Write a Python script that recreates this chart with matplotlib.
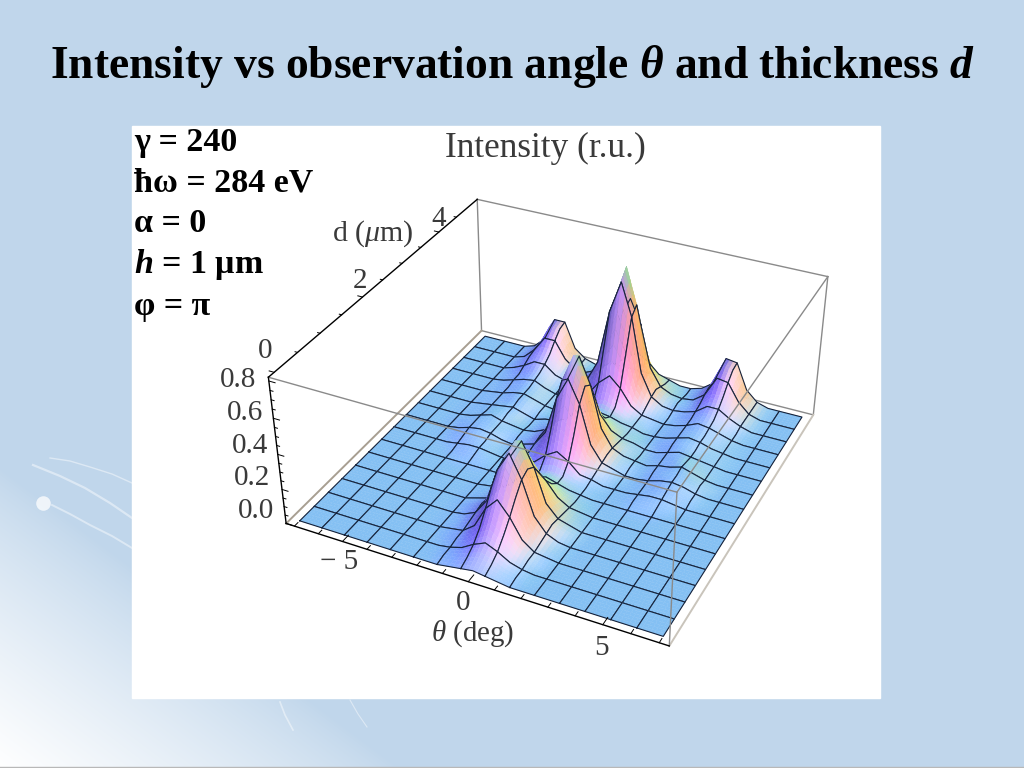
import numpy as np
import matplotlib
matplotlib.use("Agg")
import matplotlib.pyplot as plt
from mpl_toolkits.mplot3d.art3d import Poly3DCollection

plt.rcParams['font.family'] = ['Liberation Serif', 'DejaVu Serif']
plt.rcParams['mathtext.fontset'] = 'custom'
plt.rcParams['mathtext.rm'] = 'Liberation Serif'
plt.rcParams['mathtext.it'] = 'Liberation Serif:italic'
plt.rcParams['mathtext.bf'] = 'Liberation Serif:bold'
plt.rcParams['mathtext.bfit'] = 'Liberation Serif:italic:bold'

# intensity, in hundredths; rows go with d, columns with theta
intensity = np.array([
    [0,0,0,0,0,0,0,0,0,0,0,0,0,1,2,3,2,1,0,0,0,0,0,0,0,0,0,0,0,0,0],
    [0,0,0,0,0,0,0,0,0,0,0,0,1,2,4,6,4,2,1,0,0,0,0,0,0,0,0,0,0,0,0],
    [0,0,0,0,0,0,0,0,0,0,0,0,1,3,7,10,7,3,1,0,0,0,0,0,0,0,0,0,0,0,0],
    [0,0,0,0,0,0,0,0,0,0,0,0,2,5,12,17,12,5,2,0,0,0,0,0,0,0,0,0,0,0,0],
    [0,0,0,0,0,0,0,0,0,0,0,1,2,7,19,26,18,7,2,1,0,0,0,0,0,0,0,0,0,0,0],
    [0,0,0,0,0,0,0,0,0,0,0,1,3,10,27,36,25,10,3,1,0,0,0,0,0,0,0,0,0,0,0],
    [0,0,0,0,0,0,0,0,0,0,0,1,4,13,33,44,31,12,4,1,0,0,0,0,0,0,0,0,0,0,0],
    [0,0,0,0,0,0,0,0,0,0,0,2,5,14,35,47,33,13,5,2,0,0,0,0,0,0,0,0,0,0,0],
    [0,0,0,0,0,0,0,0,0,0,0,2,4,12,32,43,30,11,4,2,0,0,0,0,0,0,0,0,0,0,0],
    [0,0,0,0,0,0,0,0,0,0,0,1,3,9,24,32,22,9,3,1,0,0,0,0,0,0,0,0,0,0,0],
    [0,0,0,0,0,0,0,0,0,0,0,1,2,6,15,20,14,6,2,1,0,0,0,0,0,0,0,0,0,0,0],
    [0,0,0,0,0,0,0,0,0,0,0,0,1,3,8,11,8,3,1,0,0,0,0,0,0,0,0,0,0,0,0],
    [0,0,0,0,0,0,0,0,0,0,0,0,1,2,4,6,4,2,1,0,0,0,0,0,0,0,0,0,0,0,0],
    [0,0,0,0,0,0,0,1,1,1,0,0,1,2,4,5,4,2,1,0,0,0,1,1,1,0,0,0,0,0,0],
    [0,0,0,0,0,0,1,2,2,1,0,0,2,3,9,13,9,3,2,0,0,0,1,2,2,1,0,0,0,0,0],
    [0,0,0,0,0,1,2,3,2,1,0,1,3,8,21,29,21,8,3,1,0,0,1,2,3,2,1,0,0,0,0],
    [0,0,0,0,0,1,3,4,3,1,0,2,4,13,35,48,35,13,4,2,0,0,1,3,4,3,1,0,0,0,0],
    [0,0,0,0,0,2,3,4,3,2,1,2,5,16,42,58,42,16,5,2,1,0,2,3,4,3,2,0,0,0,0],
    [0,0,0,0,0,1,3,5,3,2,1,2,5,15,39,54,39,15,5,2,1,0,2,3,5,3,1,0,0,0,0],
    [0,0,0,0,0,1,2,4,4,2,0,2,4,10,27,37,27,10,4,2,0,0,2,4,4,2,1,0,0,0,0],
    [0,0,0,0,0,1,2,3,4,2,0,2,3,6,14,20,14,6,3,2,0,0,2,4,3,2,1,0,0,0,0],
    [0,0,0,0,0,1,2,3,5,3,1,1,2,4,8,11,8,4,2,1,0,1,3,5,3,2,1,0,0,0,0],
    [0,0,0,0,0,1,2,4,5,3,1,0,2,3,5,6,5,3,2,0,0,1,3,5,4,2,1,0,0,0,0],
    [0,0,0,0,0,1,2,4,5,3,1,0,2,3,7,10,7,3,2,0,0,1,3,5,4,2,1,0,0,0,0],
    [0,0,0,0,0,1,3,5,6,3,1,1,2,6,15,21,15,6,2,1,0,1,3,6,5,3,1,0,0,0,0],
    [0,0,0,0,0,1,3,6,7,3,1,2,4,12,33,46,33,12,4,2,0,1,3,7,6,3,1,0,0,0,0],
    [0,0,0,0,0,2,5,9,9,4,2,2,6,19,51,70,51,19,6,2,1,2,4,9,9,5,2,0,0,0,0],
    [0,0,0,0,0,2,7,12,12,5,3,3,7,21,55,76,55,21,7,3,2,2,5,13,13,7,2,0,0,0,0],
    [0,0,0,0,0,2,8,17,17,7,2,2,5,15,40,54,40,15,5,2,1,2,7,19,18,8,2,0,0,0,0],
    [0,0,0,0,0,2,8,21,21,8,2,1,3,8,21,29,21,8,3,1,0,2,8,23,22,9,2,0,0,0,0],
    [0,0,0,0,0,2,8,22,22,7,2,0,2,4,10,14,10,4,2,0,0,2,7,24,23,8,2,0,0,0,0],
]) / 100.0

theta_range = [-7.0, 7.0]
d_range = [0.0, 5.0]
theta_lim = [-7.35, 7.35]
d_lim = [-0.12, 5.12]
z_lim = [0.0, 0.82]

theta_major = [-5, 0, 5]
d_major = [0, 2, 4]
z_major = [0.0, 0.2, 0.4, 0.6, 0.8]
theta_minor = [-7, -6, -4, -3, -2, -1, 1, 2, 3, 4, 6, 7]
d_minor = [0.5, 1, 1.5, 2.5, 3, 3.5, 4.5]
z_minor = [0.05, 0.1, 0.15, 0.25, 0.3, 0.35, 0.45, 0.5, 0.55, 0.65, 0.7, 0.75]

title_text = r"Intensity vs observation angle $\mathbfit{\theta}$ and thickness $\mathbfit{d}$"
param_labels = ["γ = 240", "ħω = 284 eV", "α = 0", r"$\mathbfit{h}$ = 1 μm", "φ = π"]
param_y = [142, 183, 224, 265, 307]

ELEV = 33.5
AZIM = -64.3
FOCAL = 0.42
ZOOM = 0.83
CX, CY, SIDE = 553, 407, 700
W, H = 1024, 768

fig = plt.figure(figsize=(W / 100, H / 100), dpi=100)

# --- slide background, axes in pixels ---
bg = fig.add_axes([0, 0, 1, 1])
bg.set_xlim(0, W)
bg.set_ylim(H, 0)
bg.axis('off')
yy, xx = np.mgrid[0:H, 0:W]
glow = np.clip(1 - (xx * 0.75 + (H - yy)) / 300.0, 0, 1)[..., None] ** 0.8
base = np.array([192, 214, 235]) / 255.0
bg.imshow(base * (1 - glow) + glow, extent=(0, W, H, 0), aspect='auto', zorder=0)

for xs, ys, lw in [([50, 70, 90, 112, 132], [458, 461, 467, 474, 483], 1.0),
                   ([33, 60, 85, 110, 132], [465, 476, 488, 503, 518], 1.6),
                   ([52, 70, 90, 112, 132], [505, 514, 525, 536, 548], 1.4),
                   ([280, 285, 293], [702, 715, 730], 1.2),
                   ([350, 358, 367], [700, 714, 727], 0.8)]:
    bg.plot(xs, ys, color='white', lw=lw, alpha=0.45, zorder=1)
bg.scatter([43], [503], s=110, color='white', alpha=0.75, lw=0, zorder=1)
bg.plot([0, W], [767, 767], color='#b8b8b8', lw=1, zorder=1)

bg.fill([132, 880, 880, 132], [126, 126, 698, 698], color='white', zorder=2)

bg.text(512, 66, title_text, fontsize=32.8, fontweight='bold', ha='center', va='center', zorder=5)
for lab, y in zip(param_labels, param_y):
    bg.text(134, y, lab, fontsize=24.5, fontweight='bold', ha='left', va='center', zorder=5)

gray = '#3a3a3a'
bg.text(545, 148, "Intensity (r.u.)", fontsize=25.4, color=gray, ha='center', va='center', zorder=5)
bg.text(373, 234, r"d ($\mu$m)", fontsize=21.5, color=gray, ha='center', va='center', zorder=5)
bg.text(473, 634, r"$\theta$ (deg)", fontsize=20.8, color=gray, ha='center', va='center', zorder=5)
for lab, x, y in [("0", 265, 351), ("2", 360, 281), ("4", 439, 219),
                  ("0.0", 256, 511), ("0.2", 252, 478), ("0.4", 250, 446),
                  ("0.6", 245, 413), ("0.8", 238, 380),
                  ("\u2212 5", 339, 562), ("0", 463, 603), ("5", 602, 648)]:
    bg.text(x, y, lab, fontsize=21, color=gray, ha='center', va='center', zorder=5)

# --- surface ---
ax = fig.add_axes([(CX - SIDE / 2) / W, (H - CY - SIDE / 2) / H, SIDE / W, SIDE / H],
                  projection='3d', computed_zorder=False)
ax.patch.set_alpha(0)
ax.set_axis_off()
ax.set_proj_type('persp', focal_length=FOCAL)
ax.view_init(elev=ELEV, azim=AZIM)
ax.set_box_aspect((1, 1, 0.42), zoom=ZOOM)
ax.set_xlim(*theta_lim)
ax.set_ylim(*d_lim)
ax.set_zlim(*z_lim)

n_d, n_t = intensity.shape
theta = np.linspace(theta_range[0], theta_range[1], n_t)
d = np.linspace(d_range[0], d_range[1], n_d)
T, D = np.meshgrid(theta, d)


def unit(v):
    v = np.array(v, dtype=float)
    return v / np.linalg.norm(v)


def vertex_colors(Z):
    # coloured lights fixed to the viewer, tuned to the reference tints
    gy, gx = np.gradient(Z * 0.4 / z_lim[1], 1.0 / (n_d - 1), 1.0 / (n_t - 1))
    n = np.dstack([-gx, -gy, np.ones_like(Z)])
    n /= np.linalg.norm(n, axis=2, keepdims=True)
    az, el = np.radians(AZIM), np.radians(ELEV)
    right = np.array([-np.sin(az), np.cos(az), 0])
    up = np.array([-np.sin(el) * np.cos(az), -np.sin(el) * np.sin(az), np.cos(el)])
    view = np.array([np.cos(el) * np.cos(az), np.cos(el) * np.sin(az), np.sin(el)])
    nv = np.dstack([n @ right, n @ up, n @ view])
    dr = nv @ unit([1, -0.3, 0.3])
    r = 0.53 + 0.55 * np.clip(dr, 0, 1) + 0.15 * np.clip(dr, -1, 0)
    g = 0.35 + 0.58 * np.clip(nv @ unit([0.8, 1, 0.1]), 0, 1)
    b = 0.40 + 0.60 * np.clip(nv @ unit([-0.5, 1, 1]), 0, 1)
    # slopes turned to the viewer wash out towards white
    wash = 0.6 * np.clip(nv[..., 2] - np.sin(el), 0, 1)
    return np.clip(np.dstack([r + wash, g + wash, b + wash]), 0, 1)


C = vertex_colors(intensity)
P = np.dstack([T, D, intensity])


def sub_quads(i, j, parts=3):
    # one data cell split into flat-shaded parts, geometry stays bilinear
    polys, cols = [], []
    corners = P[i, j], P[i, j + 1], P[i + 1, j + 1], P[i + 1, j]
    ccols = C[i, j], C[i, j + 1], C[i + 1, j + 1], C[i + 1, j]

    def mix(vals, u, v):
        return (vals[0] * (1 - u) * (1 - v) + vals[1] * u * (1 - v)
                + vals[2] * u * v + vals[3] * (1 - u) * v)

    for a in range(parts):
        for b in range(parts):
            u0, u1, v0, v1 = a / parts, (a + 1) / parts, b / parts, (b + 1) / parts
            polys.append([mix(corners, u0, v0), mix(corners, u1, v0),
                          mix(corners, u1, v1), mix(corners, u0, v1)])
            cols.append(mix(ccols, (u0 + u1) / 2, (v0 + v1) / 2))
    return polys, cols


# far cells first, so that each mesh cell and its lines hide what lies behind
order = 10
step = 2
mesh_color = '#16223a'
for i in range(n_d - 1 - step, -1, -step):
    for j in range(0, n_t - 1, step):
        polys, cols = [], []
        for ii in range(i, i + step):
            for jj in range(j, j + step):
                p, c = sub_quads(ii, jj)
                polys += p
                cols += c
        cols = np.clip(np.array(cols), 0, 1)
        pc = Poly3DCollection(polys, facecolors=cols, edgecolors=cols, linewidths=0.25)
        pc.set_zorder(order)
        ax.add_collection3d(pc)
        order += 1
        rim = [(i, j), (i, j + 1), (i, j + 2), (i + 1, j + 2), (i + 2, j + 2),
               (i + 2, j + 1), (i + 2, j), (i + 1, j), (i, j)]
        ax.plot(T[tuple(zip(*rim))], D[tuple(zip(*rim))], intensity[tuple(zip(*rim))],
                color=mesh_color, lw=0.8, zorder=order)
        order += 1

# --- box ---
x0, x1 = theta_lim
y0, y1 = d_lim
z0, z1 = z_lim
back_gray = '#8a8a8a'


def edge(a, b, color=back_gray, lw=1.0, z=1):
    ax.plot([a[0], b[0]], [a[1], b[1]], [a[2], b[2]], color=color, lw=lw, zorder=z)


front = order + 1
edge((x0, y1, z0), (x1, y1, z0))
edge((x0, y1, z0), (x0, y1, z1))
edge((x1, y1, z0), (x1, y1, z1))
edge((x0, y1, z1), (x1, y1, z1))
edge((x0, y0, z0), (x0, y1, z0), color='#a89f92', lw=1.4)
edge((x1, y0, z0), (x1, y1, z0), color='#c9c4bb', lw=1.4)
edge((x1, y1, z1), (x1, y0, z1), z=front)
edge((x0, y0, z1), (x1, y0, z1), z=front)
edge((x1, y0, z0), (x1, y0, z1), z=front)
edge((x0, y0, z0), (x1, y0, z0), color='black', z=front)
edge((x0, y0, z0), (x0, y0, z1), color='black', z=front)
edge((x0, y0, z1), (x0, y1, z1), color='black', z=front)

for t in theta_major + theta_minor:
    ln = 0.14 if t in theta_major else 0.08
    edge((t, y0, z0), (t, y0 + ln, z0), color='black', lw=0.7, z=front)
for t in d_major + d_minor:
    ln = 0.2 if t in d_major else 0.1
    edge((x0, t, z1), (x0 - ln, t, z1), color='black', lw=0.7, z=front)
for t in z_major + z_minor:
    ln = 0.25 if t in z_major else 0.12
    edge((x0, y0, t), (x0 + ln, y0, t), color='black', lw=0.7, z=front)

fig.savefig("out.png", dpi=100)
